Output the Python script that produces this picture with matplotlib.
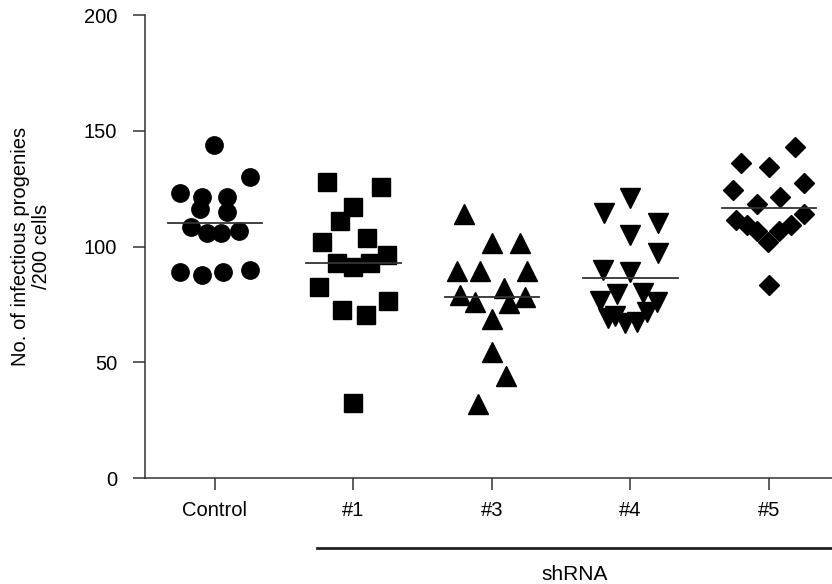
import matplotlib
matplotlib.use("Agg")
import matplotlib.pyplot as plt
import numpy as np

plt.rcParams['font.family'] = ['Liberation Sans', 'DejaVu Sans']

groups = ['Control', '#1', '#3', '#4', '#5']
markers = ['o', 's', '^', 'v', 'D']

control = [144, 130, 123, 121.5, 121.5, 116, 115, 108.5, 106, 106, 106.5, 89, 87.5, 89, 90]
sh1 = [128, 125.5, 117, 111, 102, 103.5, 96.5, 93, 91, 93, 82.5, 72.5, 70.5, 76.5, 32.5]
sh3 = [114, 101.5, 101.5, 89.5, 89.5, 89.5, 79, 82, 76, 75.5, 78, 68.5, 54.5, 44, 32]
sh4 = [121, 114.5, 110, 105, 97, 90, 89, 76.5, 79.5, 80, 76, 70, 67, 67.5, 71.5, 69]
sh5 = [143, 136, 134.5, 127.5, 124.5, 121.5, 118.5, 111.5, 109.5, 106.5, 102, 106.5, 109.5, 114, 83.5]

# horizontal spread of the dots inside each column
spread = [
    [-0.01, 0.25, -0.25, -0.09, 0.09, -0.11, 0.09, -0.17, -0.06, 0.04, 0.17, -0.25, -0.09, 0.06, 0.25],
    [-0.19, 0.20, 0, -0.10, -0.23, 0.10, 0.24, -0.12, 0, 0.12, -0.25, -0.08, 0.09, 0.25, 0],
    [-0.20, 0, 0.20, -0.25, -0.09, 0.25, -0.23, 0.09, -0.12, 0.12, 0.24, 0, 0, 0.10, -0.10],
    [0, -0.19, 0.20, 0, 0.20, -0.20, 0, -0.22, -0.10, 0.09, 0.19, -0.11, -0.04, 0.05, 0.12, -0.16],
    [0.19, -0.20, 0, 0.25, -0.26, 0.08, -0.09, -0.24, -0.16, -0.09, -0.01, 0.07, 0.16, 0.25, 0],
]
values = [control, sh1, sh3, sh4, sh5]
msizes = [12.5, 13, 14, 14, 10]

fig = plt.figure(figsize=(8.32, 5.84), dpi=100)
ax = fig.add_axes([0.1743, 0.1815, 0.8257, 0.7928])

for i, (vals, dx) in enumerate(zip(values, spread)):
    x = i + np.array(dx)
    ax.plot(x, vals, linestyle='none', marker=markers[i], ms=msizes[i],
            color='black', mec='black', clip_on=False, zorder=3)
    ax.plot([i - 0.34, i + 0.34], [np.mean(vals)] * 2, color='#333333', lw=1.3, zorder=4)

ax.set_xlim(-0.505, 4.455)
ax.set_ylim(0, 200)
ax.set_yticks([0, 50, 100, 150, 200])
ax.set_xticks(range(len(groups)))
ax.set_xticklabels(groups)
for s in ['top', 'right']:
    ax.spines[s].set_visible(False)
for s in ['left', 'bottom']:
    ax.spines[s].set_color('#333333')
    ax.spines[s].set_linewidth(1.1)
ax.tick_params(axis='y', length=9, width=1.1, color='#333333', pad=11, labelsize=14.5)
ax.tick_params(axis='x', length=8.6, width=1.1, color='#333333', pad=8, labelsize=14.5)
ax.set_ylabel('No. of infectious progenies\n/200 cells', fontsize=14.5, linespacing=1.1)
ax.yaxis.set_label_coords(-0.137, 0.5)

tr = ax.get_xaxis_transform()
ax.plot([0.736, 4.455], [-0.151, -0.151], color='#222222', lw=2, transform=tr, clip_on=False)
ax.text(2.596, -0.209, 'shRNA', transform=tr, ha='center', va='center', fontsize=15)

fig.savefig('out.png', dpi=100)
